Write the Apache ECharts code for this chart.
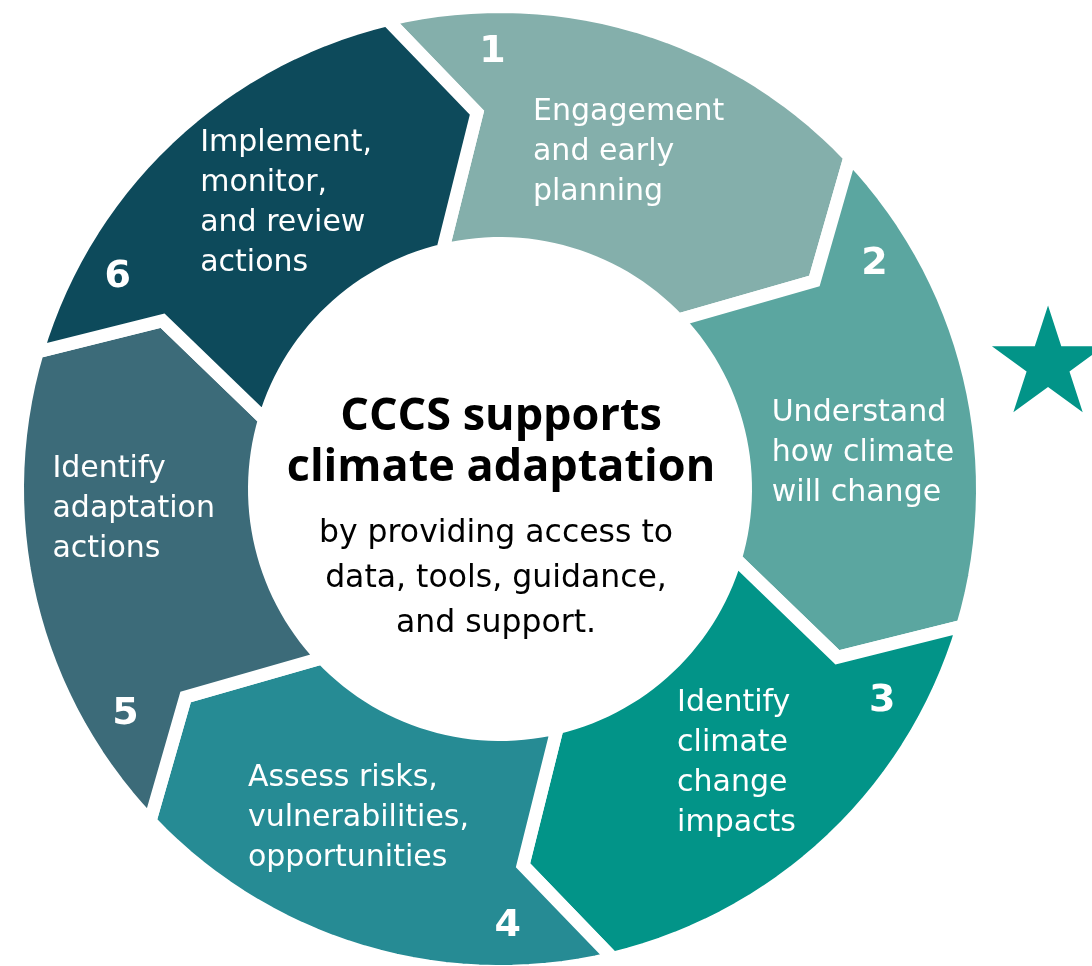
<!DOCTYPE html>
<html>
<head>
<meta charset="utf-8">
<script src="https://cdn.jsdelivr.net/npm/echarts@6/dist/echarts.min.js"></script>
<style>
  html, body { margin: 0; padding: 0; background: #fff; }
  #chart { width: 1092px; height: 966px; }
</style>
</head>
<body>
<div id="chart"></div>
<script>
// the six steps of the adaptation cycle
const stepNumbers = ['1', '2', '3', '4', '5', '6'];
const stepLabels = [
  'Engagement\nand early\nplanning',
  'Understand\nhow climate\nwill change',
  'Identify\nclimate\nchange\nimpacts',
  'Assess risks,\nvulnerabilities,\nopportunities',
  'Identify\nadaptation\nactions',
  'Implement,\nmonitor,\nand review\nactions'
];
// share of the ring each step takes (degrees)
const stepSpans = [60, 60, 60, 60, 60, 60];
const centerTitle = 'CCCS supports\nclimate adaptation';
const centerText = 'by providing access to\ndata, tools, guidance,\nand support.';

const stepColors = ['#84afab', '#5ba6a0', '#029488', '#268b94', '#3c6b79', '#0d4a5b'];

// layout (polar: angle clockwise from top, radius in px)
const START = -13.5;
const R_OUT = 482.5, R_IN = 245.5, R_TIP = 377, TIP_SHIFT = 10, GAP = 13;
const NUM_SHIFT = 12.5, NUM_R = 437;
const labelPos = [[5.6, 338], [82.5, 274], [147.1, 326], [217.4, 415], [267.4, 448], [313.6, 414]];
const starPos = [562, 77.2];

const chart = echarts.init(document.getElementById('chart'));

// build [start, end] angle for each step
let acc = START;
const ringData = stepSpans.map((s, i) => {
  const item = [acc, acc + s, i];
  acc += s;
  return item;
});

function renderStep(params, api) {
  const a0 = api.value(0), a1 = api.value(1), i = api.value(2);
  const pt = (r, a) => api.coord([r, ((a % 360) + 360) % 360]);
  const pts = [];
  const n = 30;
  for (let k = 0; k <= n; k++) pts.push(pt(R_OUT, a0 + (a1 - a0) * k / n));
  pts.push(pt(R_TIP, a1 + TIP_SHIFT));
  for (let k = n; k >= 0; k--) pts.push(pt(R_IN, a0 + (a1 - a0) * k / n));
  pts.push(pt(R_TIP, a0 + TIP_SHIFT));

  const numPt = pt(NUM_R, a0 + NUM_SHIFT);
  const labPt = pt(labelPos[i][1], labelPos[i][0]);
  return {
    type: 'group',
    children: [
      {
        type: 'polygon',
        shape: { points: pts },
        style: { fill: stepColors[i], stroke: '#fff', lineWidth: GAP, lineJoin: 'miter', miterLimit: 20 }
      },
      {
        type: 'text',
        x: numPt[0], y: numPt[1],
        style: {
          text: stepNumbers[i], fill: '#fff',
          font: 'bold 38px "DejaVu Sans"', align: 'center', verticalAlign: 'middle'
        }
      },
      {
        type: 'text',
        x: labPt[0], y: labPt[1],
        style: {
          text: stepLabels[i], fill: '#fff',
          font: '30px "DejaVu Sans"', lineHeight: 40, align: 'left', verticalAlign: 'middle'
        }
      }
    ]
  };
}

function renderStar(params, api) {
  const c = api.coord([api.value(0), api.value(1)]);
  const R = 59, r = 59 * 0.382;
  const pts = [];
  for (let k = 0; k < 10; k++) {
    const a = k * Math.PI / 5;
    const rr = k % 2 ? r : R;
    pts.push([c[0] + rr * Math.sin(a), c[1] - rr * Math.cos(a)]);
  }
  return { type: 'polygon', shape: { points: pts }, style: { fill: '#029488' } };
}

const option = {
  animation: false,
  polar: { center: [500, 489], radius: R_OUT },
  angleAxis: { type: 'value', min: 0, max: 360, startAngle: 90, clockwise: true, show: false },
  radiusAxis: { type: 'value', min: 0, max: R_OUT, show: false },
  series: [
    {
      type: 'custom',
      coordinateSystem: 'polar',
      silent: true,
      data: ringData,
      renderItem: renderStep
    },
    {
      type: 'custom',
      coordinateSystem: 'polar',
      silent: true,
      data: [starPos],
      renderItem: renderStar
    }
  ],
  graphic: [
    {
      type: 'text', x: 501, y: 443,
      style: {
        text: centerTitle, fill: '#000',
        font: 'bold 45px "Open Sans"', lineHeight: 51, align: 'center', verticalAlign: 'middle'
      }
    },
    {
      type: 'text', x: 496, y: 579,
      style: {
        text: centerText, fill: '#000',
        font: '31.5px "DejaVu Sans"', lineHeight: 45, align: 'center', verticalAlign: 'middle'
      }
    }
  ]
};

chart.setOption(option);
</script>
</body>
</html>
